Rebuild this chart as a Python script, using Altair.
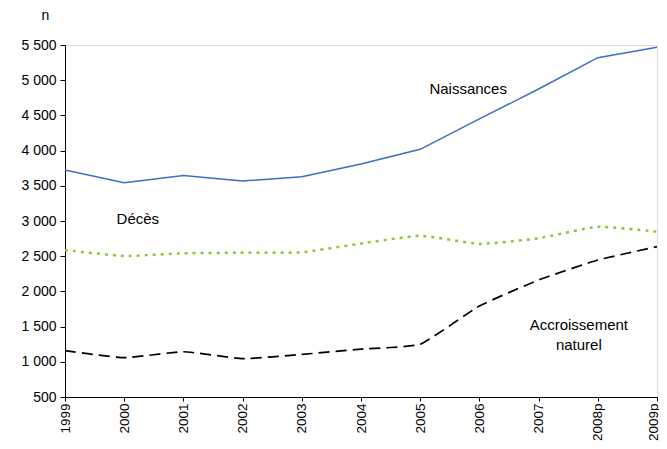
import altair as alt
import pandas as pd

years = ["1999", "2000", "2001", "2002", "2003", "2004", "2005", "2006", "2007", "2008p", "2009p"]
naissances = [3724, 3544, 3648, 3568, 3629, 3810, 4018, 4450, 4875, 5320, 5467]
deces = [2585, 2503, 2541, 2550, 2555, 2680, 2791, 2675, 2754, 2919, 2848]
accroissement = [1158, 1058, 1143, 1044, 1105, 1180, 1249, 1793, 2162, 2446, 2635]

ann_text = ["Naissances", "Décès", "Accroissement", "naturel"]
ann_x = [6.81, 1.23, 8.68, 8.68]
ann_y = [4875, 3028, 1523, 1235]

FONT = "Liberation Sans"
idx = list(range(len(years)))

df_n = pd.DataFrame({"i": idx, "v": naissances})
df_d = pd.DataFrame({"i": idx, "v": deces})
df_a = pd.DataFrame({"i": idx, "v": accroissement})
df_t = pd.DataFrame({"i": ann_x, "v": ann_y, "t": ann_text})

label_expr = "[" + ",".join(f"'{y}'" for y in years) + "][datum.value]"
last = len(years) - 1

x = alt.X("i:Q", scale=alt.Scale(domain=[0, last], nice=False, zero=False),
          axis=alt.Axis(values=idx, labelExpr=label_expr, labelAngle=-90, labelAlign="right",
                        labelBaseline="middle",
                        labelOffset={"condition": {"test": f"datum.value == {last}", "value": -4}, "value": 0},
                        labelFont=FONT, labelFontSize=13.5, labelColor="#000",
                        grid=False, domainColor="#000", tickColor="#000", tickSize=4,
                        labelPadding=2, title=None))
y = alt.Y("v:Q", scale=alt.Scale(domain=[500, 5500], nice=False, zero=False),
          axis=alt.Axis(values=list(range(500, 5501, 500)),
                        labelExpr="replace(format(datum.value, ',d'), ',', ' ')",
                        labelFont=FONT, labelFontSize=14, labelColor="#000", grid=False,
                        domainColor="#000", tickColor="#000", tickSize=5, labelPadding=4,
                        title="n", titleAngle=0, titleX=-20, titleY=-30, titleAlign="center",
                        titleBaseline="middle", titleFont=FONT, titleFontSize=14,
                        titleFontWeight="normal", titleColor="#000"))

l_n = alt.Chart(df_n).mark_line(color="#3b6fc3", strokeWidth=1.5).encode(x=x, y=y)
l_d = alt.Chart(df_d).mark_line(color="#8cc63e", strokeWidth=2.5, strokeDash=[3, 5],
                                interpolate="cardinal", tension=0.6).encode(x=x, y=y)
l_a = alt.Chart(df_a).mark_line(color="#000", strokeWidth=1.7, strokeDash=[11, 6],
                                interpolate="cardinal", tension=0.6).encode(x=x, y=y)
txt = alt.Chart(df_t).mark_text(font=FONT, fontSize=15, color="#000", align="center",
                                baseline="middle").encode(x=x, y=y, text="t:N")

chart = alt.layer(l_n, l_d, l_a, txt).properties(
    width=592, height=352,
    autosize=alt.AutoSizeParams(type="none"),
    padding={"left": 57, "top": 37, "right": 2, "bottom": 44},
).configure_view(stroke=None).configure(background="white")

chart.save("out.html", embed_options={"renderer": "svg", "actions": False})
